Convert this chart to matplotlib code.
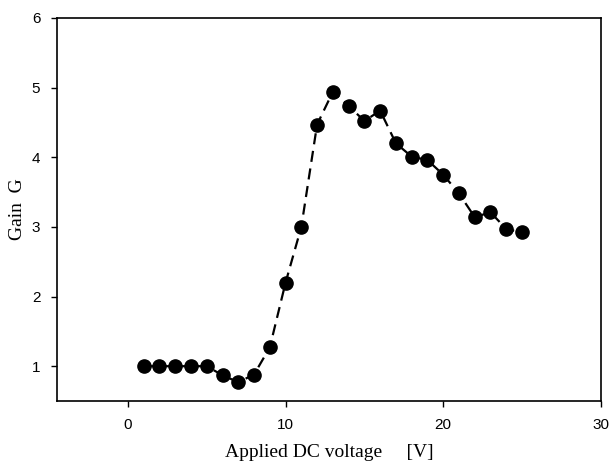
import matplotlib.pyplot as plt

# data
voltage = [1, 2, 3, 4, 5, 6, 7, 8, 9, 10, 11, 12, 13,
           14, 15, 16, 17, 18, 19, 20, 21, 22, 23, 24, 25]
gain = [1.0, 1.0, 1.0, 1.0, 1.0, 0.87, 0.77, 0.88, 1.27, 2.2, 3.0, 4.47, 4.94,
        4.74, 4.52, 4.67, 4.2, 4.01, 3.96, 3.75, 3.48, 3.14, 3.21, 2.97, 2.92]
x_ticks = [0, 10, 20, 30]
y_ticks = [1, 2, 3, 4, 5, 6]

fig = plt.figure(figsize=(6.1, 4.67), dpi=100)
ax = fig.add_axes([0.0934, 0.1413, 0.8916, 0.8202])

ax.plot(voltage, gain, color='black', linestyle=(0, (5, 3)), linewidth=1.6,
        marker='o', markersize=9.5, markerfacecolor='black', markeredgecolor='black')

ax.set_xlim(-4.5, 30)
ax.set_ylim(0.5, 6)
ax.set_xticks(x_ticks)
ax.set_yticks(y_ticks)
ax.tick_params(direction='out', length=4, width=1, labelsize=11, pad=8)
for lab in ax.get_xticklabels() + ax.get_yticklabels():
    lab.set_family('Liberation Sans')

for sp in ax.spines.values():
    sp.set_linewidth(1.2)

ax.set_xlabel('Applied DC voltage     [V]', family='Liberation Serif', fontsize=14, labelpad=9)
ax.set_ylabel('Gain  G', family='Liberation Serif', fontsize=14, labelpad=4)

fig.savefig('out.png', dpi=100)
